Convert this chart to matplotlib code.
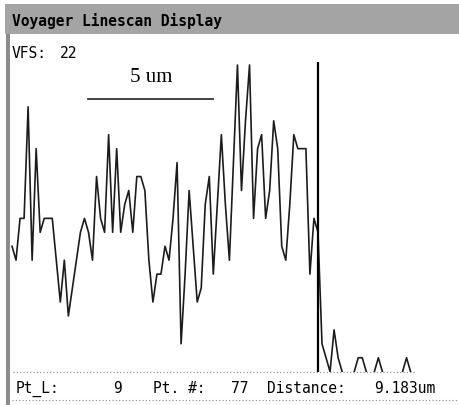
#! /usr/bin/env python3

"""Voyager linescan display: intensity profile along a scan line"""

import numpy as np
import matplotlib
matplotlib.use("Agg")
import matplotlib.pyplot as plt
from matplotlib import font_manager
from matplotlib.lines import Line2D
from matplotlib.patches import Rectangle

# scan counts for points 1..100 (vertical full scale 22)
counts = [
    9, 8, 11, 11, 19, 8, 16, 10, 11, 11,
    11, 8, 5, 8, 4, 6, 8, 10, 11, 10,
    8, 14, 11, 10, 17, 10, 16, 10, 12, 13,
    10, 14, 14, 13, 8, 5, 7, 7, 9, 8,
    11, 15, 2, 7, 13, 9, 5, 6, 12, 14,
    7, 12, 17, 12, 8, 15, 22, 13, 18, 22,
    11, 16, 17, 11, 13, 18, 16, 9, 8, 12,
    17, 16, 16, 16, 7, 11, 10, 2, 1, 0,
    3, 1, 0, 0, 0, 0, 1, 1, 0, 0,
    0, 1, 0, 0, 0, 0, 0, 0, 1, 0,
]
points = np.arange(1, len(counts) + 1)

vfs = 22
pt_l = 9
pt_cursor = 77
distance = "9.183um"
scale_label = "5 um"

W, H = 459, 406
GREY = "#a4a4a4"

# narrow screen font if available, monospace otherwise
installed = {f.name for f in font_manager.fontManager.ttflist}
if "Liberation Sans Narrow" in installed:
    SCREEN = "Liberation Sans Narrow"
    SIZE = 13.5
else:
    SCREEN = "DejaVu Sans Mono"
    SIZE = 10.5


def fx(x):
    return x / W


def fy(y):
    return 1 - y / H


fig = plt.figure(figsize=(W / 100, H / 100), dpi=100)
fig.patch.set_facecolor("white")

# title bar and left border
fig.add_artist(Rectangle((fx(5), fy(35)), fx(454), 30 / H, transform=fig.transFigure,
                         facecolor=GREY, edgecolor="none"))
fig.add_artist(Rectangle((fx(6), 0), fx(4), fy(35), transform=fig.transFigure,
                         facecolor="#8c8c8c", edgecolor="none"))
fig.text(fx(12), fy(21), "Voyager Linescan Display", family=SCREEN, weight="bold",
         fontsize=SIZE, va="center", ha="left", color="black")

# vertical full scale readout
fig.text(fx(12), fy(53), "VFS:", family=SCREEN, fontsize=SIZE, va="center", ha="left")
fig.text(fx(77), fy(53), str(vfs), family=SCREEN, fontsize=SIZE, va="center", ha="right")

# scale bar
fig.add_artist(Line2D([fx(88), fx(213)], [fy(100), fy(100)], transform=fig.transFigure,
                      color="#333333", lw=1.3))
fig.text(fx(151), fy(78), scale_label, family="Liberation Serif", fontsize=15,
         va="center", ha="center")

# trace area
px_per_pt = 4.026
ax = fig.add_axes([fx(9), fy(372.7), fx(450), (372.7 - 63) / H])
ax.set_xlim(1 - 3 / px_per_pt, 1 + 447 / px_per_pt)
ax.set_ylim(0, (372.7 - 63) / 13.94)
ax.axis("off")

# hide runs sitting on the baseline so only the dotted line shows there
vals = np.array(counts, dtype=float)
flat = np.zeros(len(vals), dtype=bool)
flat[1:-1] = (vals[1:-1] == 0) & (vals[:-2] == 0) & (vals[2:] == 0)
flat[-1] = vals[-1] == 0 and vals[-2] == 0
trace = np.ma.masked_where(flat, vals)

ax.axhline(0, xmin=4 / 450, xmax=407 / 450, color="#888888", lw=0.8,
           linestyle=(0, (1, 2)), clip_on=False)
ax.plot(points, trace, color="#1c1c1c", lw=1.2)
ax.axvline(pt_cursor, color="black", lw=1.6)

# bottom readout row
row_y = fy(389)
fig.text(fx(16), row_y, "Pt_L:", family=SCREEN, fontsize=SIZE, va="center", ha="left")
fig.text(fx(122), row_y, str(pt_l), family=SCREEN, fontsize=SIZE, va="center", ha="right")
fig.text(fx(153), row_y, "Pt. #:", family=SCREEN, fontsize=SIZE, va="center", ha="left")
fig.text(fx(248), row_y, str(pt_cursor), family=SCREEN, fontsize=SIZE, va="center", ha="right")
fig.text(fx(267), row_y, "Distance:", family=SCREEN, fontsize=SIZE, va="center", ha="left")
fig.text(fx(435), row_y, distance, family=SCREEN, fontsize=SIZE, va="center", ha="right")

fig.add_artist(Line2D([fx(12), fx(459)], [fy(401), fy(401)], transform=fig.transFigure,
                      color="#888888", lw=0.8, linestyle=(0, (1, 2))))

fig.savefig("out.png", dpi=100)
